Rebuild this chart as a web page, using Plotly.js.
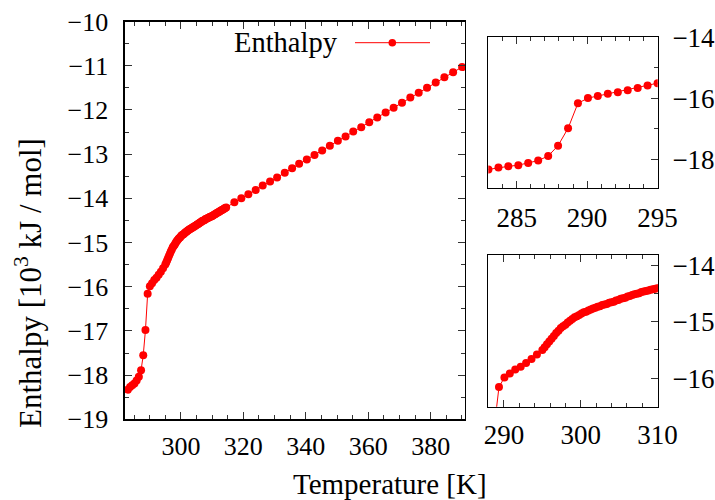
<!DOCTYPE html>
<html>
<head>
<meta charset="utf-8">
<script src="https://cdn.plot.ly/plotly-3.0.1.min.js"></script>
<style>html,body{margin:0;padding:0;background:#fff}#chart{width:715px;height:500px}</style>
</head>
<body>
<div id="chart"></div>
<script>
// Temperature [K] and enthalpy [10^3 kJ/mol]
var lowT = [283.00, 283.71, 284.41, 285.12, 285.82, 286.53, 287.24, 287.94, 288.65, 289.35, 290.06, 290.76, 291.47, 292.18, 292.88, 293.59, 294.29];
var lowH = [-18.33, -18.27, -18.23, -18.19, -18.12, -18.04, -17.89, -17.55, -16.98, -16.16, -15.99, -15.92, -15.85, -15.80, -15.73, -15.66, -15.58];

var midT = [295.0, 295.3, 295.6, 295.9, 296.2, 296.5, 296.8, 297.1, 297.4, 297.7, 298.0, 298.3, 298.6, 298.9, 299.2, 299.5, 299.8,
            300.1, 300.4, 300.7, 301.0, 301.3, 301.6, 301.9, 302.2, 302.5, 302.8, 303.1, 303.4, 303.7, 304.0, 304.3, 304.6, 304.9,
            305.2, 305.5, 305.8, 306.1, 306.4, 306.7, 307.0, 307.3, 307.6, 307.9, 308.2, 308.5, 308.8, 309.1, 309.4, 309.7, 310.0,
            310.3, 310.6, 310.9, 311.2, 311.5, 311.8, 312.1, 312.4, 312.7, 313.0, 313.3, 313.6, 313.9, 314.2, 314.5];
var midH = [-15.50, -15.45, -15.40, -15.35, -15.30, -15.25, -15.20, -15.16, -15.11, -15.08, -15.05, -15.01, -14.98, -14.95, -14.92, -14.90, -14.88,
            -14.85, -14.83, -14.82, -14.80, -14.78, -14.76, -14.75, -14.73, -14.72, -14.70, -14.69, -14.68, -14.66, -14.65, -14.64, -14.62, -14.61,
            -14.59, -14.58, -14.57, -14.55, -14.54, -14.52, -14.51, -14.50, -14.49, -14.47, -14.46, -14.45, -14.44, -14.43, -14.42, -14.41, -14.40,
            -14.39, -14.37, -14.36, -14.35, -14.33, -14.32, -14.31, -14.30, -14.28, -14.27, -14.26, -14.25, -14.23, -14.22, -14.21];

var highT = [317.12, 319.36, 321.61, 323.96, 326.21, 328.56, 330.81, 333.27, 335.62, 337.87, 340.33, 342.79, 345.25, 347.71, 350.28,
             352.74, 355.20, 357.77, 360.33, 362.90, 365.57, 368.14, 370.82, 373.49, 376.17, 378.84, 381.62, 384.40, 387.19, 390.07];
var highH = [-14.09, -14.00, -13.91, -13.81, -13.71, -13.62, -13.53, -13.42, -13.32, -13.22, -13.12, -13.02, -12.92, -12.81, -12.70,
             -12.60, -12.49, -12.39, -12.28, -12.17, -12.06, -11.95, -11.84, -11.72, -11.61, -11.50, -11.38, -11.26, -11.15, -11.03];

// tick values and labels
var mainYTicks = [-19, -18, -17, -16, -15, -14, -13, -12, -11, -10];
var mainYLabels = ["\u221219", "\u221218", "\u221217", "\u221216", "\u221215", "\u221214", "\u221213", "\u221212", "\u221211", "\u221210"];
var mainXTicks = [300, 320, 340, 360, 380];
var inset1XTicks = [285, 290, 295];
var inset1YTicks = [-18, -16, -14];
var inset1YLabels = ["\u221218", "\u221216", "\u221214"];
var inset2XTicks = [290, 300, 310];
var inset2YTicks = [-16, -15, -14];
var inset2YLabels = ["\u221216", "\u221215", "\u221214"];

var seriesName = "Enthalpy";
var xTitle = "Temperature [K]";
var yTitle = "Enthalpy [10<sup>3</sup> kJ / mol]";

var T = lowT.concat(midT, highT);
var H = lowH.concat(midH, highH);

var W = 715, Hh = 500;
function px(x){ return x / W; }
function py(y){ return 1 - y / Hh; }

var FONT = "Liberation Serif, Times New Roman, serif";
var RED = "#ff0000";

function trace(xa, ya) {
  return {
    x: T, y: H, xaxis: xa, yaxis: ya, type: "scatter", mode: "lines+markers",
    name: seriesName, showlegend: false,
    line: {color: RED, width: 1},
    marker: {color: RED, size: 8, symbol: "circle"},
    hoverinfo: "skip"
  };
}

function axisBase(extra) {
  var a = {
    showline: true, linecolor: "#000", linewidth: 1.3,
    ticks: "inside", ticklen: 7, tickwidth: 1, tickcolor: "#333",
    showgrid: false, zeroline: false,
    tickfont: {family: FONT, size: 26, color: "#000"}
  };
  for (var k in extra) a[k] = extra[k];
  return a;
}

var layout = {
  width: W, height: Hh,
  margin: {l: 0, r: 0, t: 0, b: 0},
  font: {family: FONT, size: 26, color: "#000"},
  paper_bgcolor: "#fff", plot_bgcolor: "#fff",
  showlegend: false,
  xaxis: axisBase({
    domain: [px(124.7), px(465)], range: [282, 391], anchor: "y",
    tickmode: "array", tickvals: mainXTicks, mirror: "ticks",
    minor: {ticks: "inside", dtick: 5, tick0: 300, ticklen: 4, tickcolor: "#333"},
    ticklabelstandoff: 3
  }),
  yaxis: axisBase({
    domain: [py(419.3), py(21.5)], range: [-19, -10], anchor: "x",
    tickmode: "array", tickvals: mainYTicks, ticktext: mainYLabels, mirror: "ticks",
    minor: {ticks: "inside", dtick: 0.5, tick0: -10, ticklen: 4, tickcolor: "#333"},
    ticklabelstandoff: 10
  }),
  xaxis2: axisBase({
    domain: [px(488.3), px(657.7)], range: [282.99, 295.01], anchor: "y2",
    tickmode: "array", tickvals: inset1XTicks, mirror: "ticks",
    minor: {ticks: "inside", dtick: 1, tick0: 285, ticklen: 4, tickcolor: "#333"},
    tickfont: {family: FONT, size: 27, color: "#000"},
    ticklabelstandoff: 6
  }),
  yaxis2: axisBase({
    domain: [py(187.7), py(37.3)], range: [-18.93, -13.995], anchor: "x2", side: "right",
    tickmode: "array", tickvals: inset1YTicks, ticktext: inset1YLabels, mirror: true,
    minor: {ticks: "inside", dtick: 1, tick0: -14, ticklen: 4, tickcolor: "#333"},
    tickfont: {family: FONT, size: 27, color: "#000"},
    ticklabelstandoff: 8
  }),
  xaxis3: axisBase({
    domain: [px(488.3), px(657.7)], range: [287.96, 310.02], anchor: "y3",
    tickmode: "array", tickvals: inset2XTicks, mirror: "ticks",
    minor: {ticks: "inside", dtick: 2, tick0: 290, ticklen: 4, tickcolor: "#333"},
    tickfont: {family: FONT, size: 27, color: "#000"},
    ticklabelstandoff: 4
  }),
  yaxis3: axisBase({
    domain: [py(406.7), py(255)], range: [-16.51, -13.81], anchor: "x3", side: "right",
    tickmode: "array", tickvals: inset2YTicks, ticktext: inset2YLabels, mirror: true,
    minor: {ticks: "inside", dtick: 0.5, tick0: -14, ticklen: 4, tickcolor: "#333"},
    tickfont: {family: FONT, size: 27, color: "#000"},
    ticklabelstandoff: 8
  }),
  annotations: [
    {text: xTitle, xref: "paper", yref: "paper", x: px(390), y: py(484), xanchor: "center", yanchor: "middle",
     showarrow: false, font: {family: FONT, size: 29, color: "#000"}},
    {text: yTitle, xref: "paper", yref: "paper", x: px(28), y: py(283), xanchor: "center", yanchor: "middle",
     textangle: -90, showarrow: false, font: {family: FONT, size: 31, color: "#000"}},
    {text: seriesName, xref: "paper", yref: "paper", x: px(340), y: py(43), xanchor: "right", yanchor: "middle",
     showarrow: false, font: {family: FONT, size: 28.5, color: "#000"}}
  ],
  shapes: [
    {type: "line", xref: "paper", yref: "paper", x0: px(355), x1: px(430), y0: py(42.7), y1: py(42.7),
     line: {color: RED, width: 1}},
    {type: "circle", xref: "paper", yref: "paper", x0: px(388.5), x1: px(396.1), y0: py(46.5), y1: py(38.9),
     fillcolor: RED, line: {color: RED, width: 0}}
  ]
};

Plotly.newPlot("chart", [trace("x", "y"), trace("x2", "y2"), trace("x3", "y3")], layout, {staticPlot: true, displayModeBar: false});
</script>
</body>
</html>
